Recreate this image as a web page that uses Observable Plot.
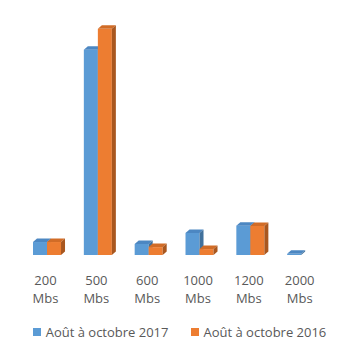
<!DOCTYPE html>
<html><head><meta charset="utf-8">
<script src="https://cdn.jsdelivr.net/npm/d3@7"></script>
<script src="https://cdn.jsdelivr.net/npm/@observablehq/plot@0.6"></script>
<style>
body{margin:0;background:#fff;font-family:"Open Sans",sans-serif;}
#legend{display:flex;justify-content:center;gap:22px;font-size:13px;line-height:16px;color:#595959;margin-top:14px;}
#legend .item{display:flex;align-items:center;}
#legend .sw{display:inline-block;width:8px;height:8px;margin-right:5px;}
</style></head><body><div id="chart"></div>
<script>
const categories = ["200 Mbs","500 Mbs","600 Mbs","1000 Mbs","1200 Mbs","2000 Mbs"];
const series = ["Août à octobre 2017","Août à octobre 2016"];
const values2017 = [4.6, 72.8, 3.9, 7.8, 10.4, 0.4];
const values2016 = [4.6, 80.2, 2.8, 2.1, 10.3, 0];
const frontColors = ["#5B9BD5","#ED7D31"];
const topColors = ["#4C87C2","#D16C27"];
const sideColors = ["#41719C","#A9571F"];

const data = [];
categories.forEach((c, i) => {
  [values2017, values2016].forEach((vals, s) => {
    data.push({i, cat: c, s, series: series[s], value: vals[i]});
  });
});

const half = 0.2756;      // bar width in category units
const depthX = 4, depthY = 3.5;

function render3d(index, scales, values, dimensions, context) {
  const g = d3.select(context.document.createElementNS("http://www.w3.org/2000/svg", "g"));
  for (const k of index) {
    const d = data[k];
    if (!(d.value > 0)) continue;
    const x1 = values.x1[k], x2 = values.x2[k];
    const yB = Math.max(values.y1[k], values.y2[k]);
    const yT = Math.min(values.y1[k], values.y2[k]);
    g.append("rect").attr("x", x1).attr("y", yT).attr("width", x2 - x1).attr("height", yB - yT)
      .attr("fill", frontColors[d.s]);
    g.append("path").attr("d", `M${x1},${yT}L${x2},${yT}L${x2 + depthX},${yT - depthY}L${x1 + depthX},${yT - depthY}Z`)
      .attr("fill", topColors[d.s]);
    g.append("path").attr("d", `M${x2},${yT}L${x2 + depthX},${yT - depthY}L${x2 + depthX},${yB - depthY}L${x2},${yB}Z`)
      .attr("fill", sideColors[d.s]);
  }
  return g.node();
}

const chart = Plot.plot({
  width: 359,
  height: 310,
  marginBottom: 55,
  marginTop: 0,
  marginLeft: 0,
  marginRight: 0,
  style: {fontFamily: "'Open Sans', sans-serif", background: "#fff"},
  x: {domain: [-0.5, 5.5], range: [21.6, 326.6]},
  y: {domain: [0, 90], range: [255, 255 - 90 * 2.82], axis: null},
  marks: [
    Plot.rect(data, {
      x1: d => d.i - half + d.s * half,
      x2: d => d.i + d.s * half,
      y1: 0,
      y2: "value",
      render: render3d
    }),
    Plot.axisX({
      ticks: categories.map((c, i) => i),
      tickFormat: i => categories[i].replace(" ", "\n"),
      tickSize: 0,
      tickPadding: 17,
      fontSize: 13,
      lineHeight: 1.38,
      dx: -2,
      color: "#595959",
      label: null
    })
  ]
});
document.getElementById("chart").append(chart);

const legend = document.createElement("div");
legend.id = "legend";
series.forEach((s, k) => {
  const item = document.createElement("div");
  item.className = "item";
  const sw = document.createElement("span");
  sw.className = "sw";
  sw.style.background = frontColors[k];
  item.append(sw, document.createTextNode(s));
  legend.append(item);
});
document.body.append(legend);
</script>
</body></html>
